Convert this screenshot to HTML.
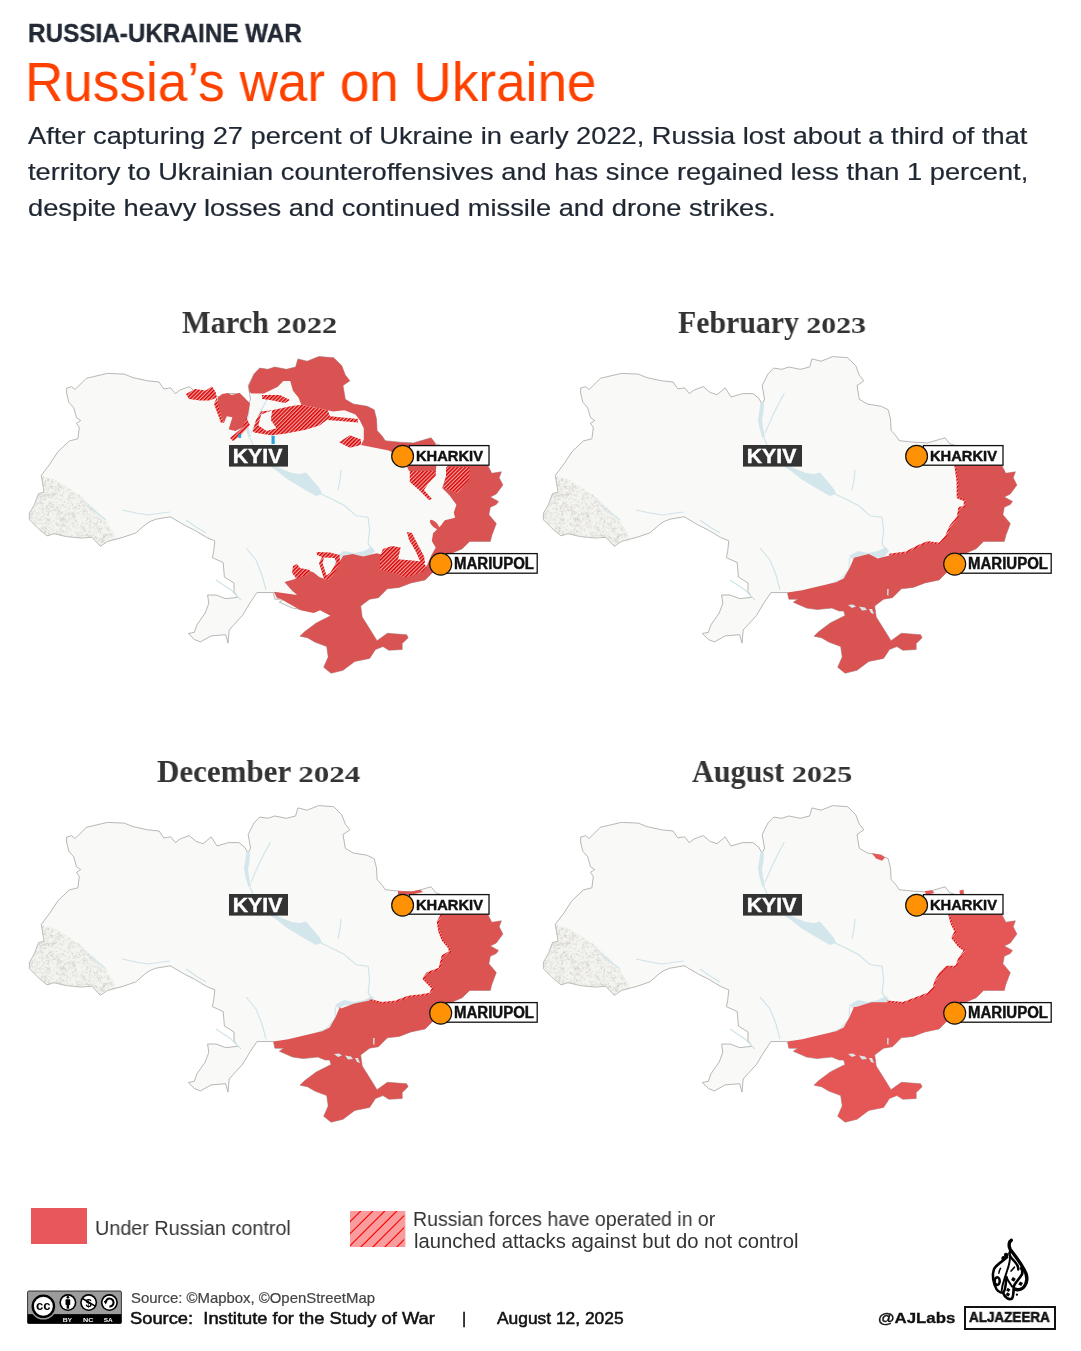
<!DOCTYPE html>
<html><head><meta charset="utf-8">
<style>
html,body{margin:0;padding:0;background:#fff;}
body{width:1081px;height:1351px;position:relative;overflow:hidden;font-family:"Liberation Sans",sans-serif;}
.t{position:absolute;white-space:nowrap;transform-origin:0 0;will-change:transform;}
#map{position:absolute;left:0;top:0;will-change:transform;}
#cc,#ajlogo{will-change:transform;}
.od{display:inline-block;transform:scaleY(0.72);transform-origin:50% 83%;}
</style></head>
<body>
<svg id="map" width="1081" height="1351" viewBox="0 0 1081 1351">
<defs>
<pattern id="hat" patternUnits="userSpaceOnUse" width="2.7" height="2.7" patternTransform="rotate(45)">
<rect x="0" y="0" width="2.7" height="2.7" fill="#f3aaaa"/><rect x="0" y="0" width="1.5" height="2.7" fill="#d80000"/>
</pattern>
<path id="ukr" d="M543.4,513.3 548.3,504.9 552.5,493.7 558.1,492.2 555.3,475.4 563.8,464.1 572.2,451.4 583.5,440.9 591.9,438.8 593.3,427.5 590.5,423.3 594.7,420.5 590.5,417.7 587.7,407.8 582.8,402.2 580.6,393.0 580.6,388.1 585.6,386.7 589.1,389.5 600.3,378.3 621.4,373.4 638.3,374.1 646.8,377.6 661.6,380.8 673.1,382.0 677.8,388.9 684.7,387.8 689.3,393.6 693.9,390.1 703.2,386.6 710.1,392.4 717.1,394.7 725.2,387.8 731.0,397.0 742.5,393.6 752.9,393.6 758.7,398.2 762.2,404.0 764.5,399.3 762.2,385.5 768.0,373.9 773.7,368.1 781.8,369.3 788.8,367.0 800.3,369.3 809.6,367.0 811.9,358.9 821.1,361.2 832.7,356.6 847.7,357.7 855.8,365.8 859.3,375.1 863.9,380.8 857.0,385.5 859.3,399.3 867.4,404.0 881.3,406.3 888.2,409.8 890.5,419.0 891.1,430.4 896.3,436.3 899.2,440.7 914.0,442.2 927.4,442.9 945.1,437.8 949.6,443.7 975.0,452.0 1000.0,462.0 1005.8,473.3 1015.4,471.8 1013.2,477.7 1016.9,485.1 1010.3,494.0 1004.3,497.0 1012.5,501.4 1010.3,504.4 1004.3,507.3 1002.9,514.7 1010.3,523.6 1005.8,535.5 1004.3,541.4 983.6,541.4 976.2,548.8 965.8,553.2 955.0,565.0 945.1,573.9 939.2,579.9 925.0,582.9 913.2,587.4 901.4,588.8 892.5,597.7 883.6,599.2 874.7,605.9 876.2,617.0 883.6,628.8 891.0,640.7 901.4,633.3 920.6,634.7 922.1,637.7 916.2,643.6 916.2,649.5 902.9,650.3 896.9,646.6 889.5,649.5 883.6,658.4 868.8,661.4 857.0,670.3 845.1,673.2 837.7,667.3 842.2,656.9 840.7,646.6 828.8,642.1 821.4,637.7 814.0,636.2 818.5,631.8 830.3,622.9 845.1,615.5 843.6,611.0 839.2,611.0 831.8,608.1 817.0,609.6 806.6,608.1 793.3,602.2 797.8,599.2 788.9,599.2 787.4,592.5 770.9,592.6 763.7,603.4 756.5,615.4 743.2,629.9 742.0,643.1 739.6,634.7 725.2,635.9 714.4,641.9 708.4,639.5 702.3,633.5 708.4,632.3 710.8,625.0 719.2,613.0 722.8,603.4 721.6,595.0 730.0,595.0 739.6,598.6 751.6,597.4 748.0,591.4 748.0,583.0 738.4,577.0 737.2,562.5 726.4,557.7 727.6,551.7 728.8,540.9 720.4,537.3 708.4,530.1 698.7,525.3 684.3,516.8 669.9,519.2 663.9,521.6 660.2,524.0 649.6,533.0 636.9,537.3 621.4,541.5 614.4,546.4 606.0,537.3 594.7,538.0 580.6,536.6 568.0,533.7 561.0,535.9 552.5,528.8 543.4,519.7Z"/>
<clipPath id="ukrclip"><use href="#ukr"/></clipPath>
<g id="carp"><path d="M570.8 487.2l-0.8 1.5M590.3 503.1l2.5 0.5M544.4 508.1l1.6 0.4M580.1 537.2l1.8 0.7M594.1 505.4l-1.6 0.1M554.3 484.7l1.8 2.6M557.6 519.0l-0.9 2.0M603.6 507.6l1.5 2.2M582.7 498.2l-2.3 1.7M563.5 518.5l-0.3 3.2M579.5 532.0l2.2 1.1M544.6 525.4l-2.0 1.8M605.0 520.0l-0.6 2.3M618.3 545.9l0.2 2.8M546.6 527.9l-1.6 3.1M576.5 525.5l2.4 0.2M556.5 484.7l3.0 0.6M552.9 494.3l1.1 3.1M548.4 509.2l-0.5 3.2M616.4 539.9l1.5 1.8M557.2 493.2l1.8 1.7M575.0 517.9l-2.8 0.4M588.4 521.7l-0.8 1.4M623.8 533.7l-2.9 1.2M577.1 505.5l2.6 0.9M560.2 488.0l0.8 1.4M550.3 502.9l3.2 0.3M564.2 501.7l0.7 1.6M583.9 511.8l1.6 0.5M572.5 495.6l-1.6 0.9M620.4 527.5l1.5 1.6M556.4 533.1l-0.3 3.0M571.3 492.5l-2.9 1.9M619.4 535.6l-2.5 1.6M561.9 514.3l0.7 1.4M564.8 527.2l-2.4 0.3M561.3 492.8l1.6 1.1M601.1 535.2l2.7 0.7M624.7 533.9l-1.7 1.7M557.4 534.4l1.6 2.7M552.7 487.2l-3.0 0.9M573.2 516.6l1.4 0.6M564.2 497.7l1.9 1.8M564.9 507.0l3.0 1.3M573.5 509.9l-0.9 3.2M587.2 515.4l-0.1 1.5M581.5 489.5l3.1 0.0M556.9 511.0l-1.7 2.0M571.0 514.4l-0.5 3.0M550.8 517.5l1.5 1.4M612.0 513.6l-0.6 3.0M597.4 513.4l-0.1 2.9M582.6 515.5l0.2 3.4M605.3 540.9l-2.0 0.4M552.2 508.7l1.9 0.4M547.7 525.5l-2.6 2.1M555.2 529.0l-0.9 1.6M577.6 512.1l-3.2 0.1M555.9 507.9l-0.1 2.2M559.0 499.6l-1.0 1.2M592.0 508.6l2.2 0.1M598.4 513.9l3.4 0.7M613.5 547.9l1.9 0.7M565.9 485.6l0.8 3.2M593.5 527.8l1.6 0.4M604.3 507.5l3.3 0.8M599.4 535.3l3.1 0.8M582.7 501.1l-0.6 3.3M565.6 485.6l-0.2 2.0M551.1 487.9l1.9 0.3M569.7 498.6l-1.5 1.4M608.4 516.8l2.0 1.4M586.5 537.8l0.8 2.4M572.5 537.6l-1.7 2.2M578.2 501.7l1.7 0.3M564.5 488.1l3.1 0.8M621.1 525.6l1.3 1.5M568.0 510.0l2.1 1.1M569.5 502.4l2.3 0.0M584.7 513.2l2.0 1.5M549.3 505.6l1.5 0.2M569.0 493.2l-0.7 2.5M610.0 524.7l-2.0 2.5M576.8 500.1l-1.8 0.1M607.6 523.6l3.1 0.4M608.5 536.1l2.3 1.1M587.4 537.8l-2.6 1.8M603.8 527.3l1.2 1.0M553.2 502.7l3.0 1.0M592.4 522.5l-1.1 2.6M614.4 531.4l-0.0 2.6M547.8 495.7l-1.3 1.4M586.4 504.3l0.2 2.9M611.6 521.7l-0.7 1.5M554.6 494.8l-1.5 1.5M602.8 527.2l-1.1 1.8M588.5 510.4l0.2 1.7M542.6 510.0l-2.9 1.8M582.3 495.9l2.7 2.1M560.4 519.0l2.3 1.1M622.6 528.0l2.5 2.2M541.3 512.4l0.3 2.1M553.9 501.5l1.7 2.7M575.2 505.1l-2.7 0.0M574.2 507.7l1.0 1.2M563.9 495.7l-0.1 1.9M622.4 536.1l-1.3 3.0M608.4 509.4l-2.0 2.0M567.3 479.6l-1.7 0.4M584.4 501.4l1.8 2.4M592.3 505.2l1.6 0.9M586.7 492.3l-3.3 1.0M558.7 482.7l0.8 1.5M563.0 495.1l-0.7 3.2M579.1 514.8l0.8 2.0M587.3 522.6l-1.8 0.8M565.9 494.4l0.7 2.3M628.8 538.8l-1.4 0.6M617.0 539.3l-2.0 0.2M551.0 487.4l-0.2 2.9M600.6 532.6l0.3 2.6M552.8 494.6l-1.2 2.6M589.2 519.1l0.7 1.8M568.7 510.1l-2.8 0.4M562.6 494.3l-2.9 0.4M586.8 525.9l0.5 2.0M561.9 478.5l1.1 2.0M614.3 530.7l-0.0 1.9M561.4 532.3l2.0 2.7M561.5 506.9l-1.7 2.9M554.5 505.1l2.7 2.1M554.1 479.8l2.2 0.4M623.6 541.4l-2.3 2.6M602.1 504.0l0.8 2.0M566.7 502.0l-1.7 0.2M573.8 536.8l-2.0 1.3M545.5 511.0l1.3 3.1M558.8 503.0l-1.5 0.5M578.8 536.1l-1.2 1.1M609.8 542.5l1.0 1.8M565.1 529.0l1.1 1.7M562.5 511.2l-3.4 0.5M576.6 494.6l0.5 2.4M614.8 530.6l-2.6 1.6M596.9 500.3l1.2 1.9M559.2 531.7l1.2 1.1M544.1 516.9l1.8 3.0M565.4 482.2l2.4 0.7M606.3 509.1l1.7 1.6M598.1 525.9l-2.2 2.3M593.2 503.6l-1.3 1.4M563.8 494.2l2.9 1.5M594.2 500.1l1.1 3.3M587.7 493.1l-2.3 1.6M584.7 536.6l-2.9 1.6M552.0 490.0l-2.7 0.2M564.9 533.6l-1.7 0.3M595.8 521.9l1.7 1.4M554.0 491.1l1.9 1.9M569.7 491.1l-2.1 1.6M577.4 516.7l-0.7 1.5M556.1 527.5l0.6 2.0M569.7 517.9l1.0 2.1M574.5 490.6l-1.3 1.4M580.0 536.7l0.9 3.1M542.4 516.8l-1.4 3.0M549.2 522.0l1.0 2.3M554.4 497.0l-0.2 3.3M551.0 512.3l-2.8 2.0M559.2 485.4l-3.4 0.6M578.2 538.6l-1.6 1.0M561.1 505.6l-0.1 2.3M552.3 494.3l-2.1 2.5M544.8 517.6l-1.1 1.1M596.2 516.7l-0.8 1.9M579.6 519.1l0.7 2.7M582.1 508.4l2.7 0.2M586.0 493.4l-2.3 2.1M583.2 489.3l0.1 1.7M552.8 507.9l2.3 0.7M608.5 533.5l-0.1 1.6M587.4 504.0l-1.8 0.3M608.4 536.3l2.8 2.0M613.5 544.9l2.2 0.4M560.2 495.5l-0.0 2.1M603.5 542.3l2.6 1.6M551.6 515.3l-0.9 2.0M594.4 541.3l3.3 1.1M598.9 505.2l-1.6 1.2M574.1 532.6l0.3 1.8M594.9 525.1l0.8 1.3M597.7 508.0l-0.1 3.3M553.1 492.8l-0.7 1.4M550.8 502.4l2.0 1.7M598.4 511.1l3.1 1.4M563.4 487.0l2.7 0.8M621.2 533.9l0.6 1.9M542.1 523.7l-0.4 2.2M600.4 508.8l-2.9 0.6M545.0 515.3l0.6 1.9M542.1 516.8l-1.8 0.3M559.4 521.0l-0.1 2.8M569.5 498.2l3.2 0.5M613.0 528.9l3.2 0.1M609.6 510.4l-1.7 1.7M561.8 483.8l1.2 1.1M571.9 531.5l-1.8 2.6M591.9 508.3l-2.0 1.6M565.4 523.5l-1.9 0.2M565.0 493.5l-2.4 2.4M599.0 527.3l-1.7 3.0M584.2 538.1l-1.9 2.6M581.2 529.6l-0.5 2.1M560.5 522.1l3.2 0.8M554.3 478.0l3.2 1.1M572.7 486.5l1.6 0.1M604.7 522.9l-1.7 2.4M547.1 519.7l1.3 2.9M616.4 542.0l3.2 0.7M625.1 545.9l1.8 0.6M619.0 536.1l-1.3 2.9M570.4 507.4l2.0 0.1M567.0 529.0l0.9 2.0M619.3 521.8l2.3 0.2M581.2 533.2l1.3 2.6M541.4 512.3l0.1 3.1M558.0 512.6l1.5 2.8M567.1 491.9l-1.5 2.0M551.1 523.1l3.0 0.8M605.1 534.2l-0.9 2.0M577.9 505.2l-1.6 0.6M560.0 495.5l-2.4 0.8M562.5 510.1l-0.3 3.0M610.3 523.8l1.0 1.9M601.9 530.9l2.0 1.2M612.2 518.9l2.2 0.9M558.6 498.3l-1.9 2.6M555.2 487.5l1.5 1.5M571.2 490.0l-2.9 0.2M550.4 504.4l-3.1 0.2M559.0 523.2l1.8 0.6M577.7 534.5l-1.4 2.1M599.2 510.3l2.4 1.2M578.2 530.8l-2.3 0.7M593.8 531.4l0.5 1.9M607.4 541.1l-2.2 1.9M619.4 526.3l-1.0 2.2M569.8 522.5l2.2 0.7M613.0 528.8l-0.8 1.8M580.0 509.7l-0.9 2.2M557.8 524.4l-1.7 1.5M544.5 516.2l2.7 1.5M550.3 518.5l-0.4 2.9M588.1 523.3l-2.2 1.3M560.3 526.6l1.0 2.9M566.2 505.6l2.3 0.1M579.7 527.7l0.9 1.8M561.6 530.9l-2.5 0.5M561.1 535.3l0.6 1.8M552.9 533.5l-2.3 1.6M584.2 517.6l2.6 2.2M573.5 523.3l-2.6 1.7M584.1 497.8l-0.3 1.7M575.6 494.8l0.4 1.8M566.9 494.1l1.4 2.0M580.4 523.2l-1.1 2.0M626.4 539.2l3.1 0.6M624.3 534.0l2.9 1.4M562.5 533.4l0.8 1.6M624.2 534.6l2.8 1.7M597.0 533.8l-1.7 2.8M613.5 538.1l2.3 1.7M589.8 530.9l0.6 3.2M592.1 495.6l1.3 1.2M586.2 512.9l-0.4 3.2M584.1 517.6l-1.6 2.8M575.5 507.0l-1.6 0.2M599.6 523.1l2.7 0.2M588.0 511.9l-1.5 0.5M607.1 522.3l1.6 2.8M574.7 511.1l-0.2 3.0M560.4 508.2l0.6 2.5M587.3 496.1l-0.1 3.4M601.2 534.6l1.1 1.8M568.5 519.4l-1.3 2.8M601.5 534.4l-2.6 0.8M597.7 522.4l-1.6 2.2M602.4 509.9l-1.3 1.2M557.7 478.7l-2.5 2.2M601.3 503.3l-2.6 1.6M592.7 495.1l1.4 1.9M570.3 507.9l-1.5 3.0M546.0 518.0l1.7 0.2M615.6 518.6l-2.3 0.6M555.0 477.1l2.9 0.0M606.6 539.3l-1.1 1.3M598.8 528.5l0.4 3.3M542.4 524.2l-1.4 0.9M569.6 530.0l2.8 1.6M574.8 518.5l0.5 2.8M574.4 523.7l-0.9 2.1M576.5 534.2l-3.0 0.5M593.1 497.6l3.4 0.7M605.7 537.2l1.4 2.3M596.3 498.8l0.7 3.2M575.7 526.7l-1.0 3.1M579.9 519.4l-2.7 1.8M615.7 540.2l-0.5 2.0M619.3 535.7l-1.8 2.8M572.9 482.3l-0.5 3.1M559.4 531.5l-1.9 0.4M596.8 526.1l0.2 1.9M564.4 531.6l-1.9 1.5M584.8 519.6l1.6 1.1M557.6 527.9l1.1 2.4M578.0 514.3l1.4 0.7M550.8 522.8l-1.4 1.1M595.9 501.5l-0.1 1.5M593.2 495.4l-1.8 1.5M616.3 547.3l1.1 1.1M559.5 489.4l1.5 0.4M592.3 540.4l0.4 3.4M596.0 505.4l3.2 1.3M564.7 517.8l-1.5 3.1M602.6 505.1l0.3 1.8M561.4 478.9l1.5 1.6M624.1 542.9l-1.4 0.8M613.3 528.5l-1.5 3.1M610.5 545.5l-1.1 1.8M595.4 532.1l2.0 0.7M564.6 485.2l0.1 1.8M562.9 486.6l-0.8 1.3M620.7 541.8l2.2 1.0M618.5 522.5l0.3 2.2M561.4 480.2l-1.6 2.0M565.5 506.5l1.8 1.0M556.4 512.3l1.8 2.8M584.9 497.2l1.3 1.4M550.0 497.4l-1.5 0.5M558.1 508.2l-1.9 0.5M557.6 533.0l-1.2 1.5M597.0 512.7l1.2 1.4M597.3 528.4l-2.2 1.5M559.6 480.9l-1.5 1.7M618.5 540.0l0.0 1.5M558.1 537.5l0.7 1.7M575.1 520.0l2.5 0.0M582.0 514.2l2.7 1.1M616.1 540.0l1.6 2.5M576.1 531.6l3.2 0.6M588.2 515.3l-0.2 1.5M557.8 483.6l2.2 2.2M542.6 520.4l-0.6 2.5M621.0 529.1l1.7 0.2M586.4 513.1l1.1 1.3M578.3 486.1l-0.9 3.1M554.5 518.4l-1.3 1.3M617.0 545.4l0.8 2.2M563.1 500.8l0.7 3.4M615.0 543.5l-2.7 1.8M545.9 514.3l-3.3 0.4M563.9 507.2l-0.9 2.0M580.8 513.4l1.8 0.1M615.5 541.4l-1.5 0.6M588.9 508.1l-2.1 0.3M569.1 523.9l2.5 1.0M565.7 510.5l-0.2 1.8M552.4 485.7l1.4 1.8M567.5 494.0l2.5 0.7M618.3 521.1l-0.6 2.7M559.5 528.6l0.3 2.6M597.4 510.7l1.1 1.6M561.4 513.9l1.0 2.5M592.2 512.4l2.2 2.7M568.2 533.1l1.4 0.8M546.7 504.7l0.6 2.9M551.1 492.7l-3.0 0.4M555.2 500.9l1.3 2.5M597.7 538.9l-2.1 1.4M609.0 531.0l-1.8 1.7M613.2 528.4l-1.7 0.5M611.4 519.4l0.0 3.4M593.6 506.9l-2.5 2.0M596.9 504.1l0.4 2.4M576.9 517.1l0.8 2.0M613.4 538.9l0.0 2.4M557.9 498.5l2.4 1.2M618.6 538.0l-1.9 0.2M593.0 512.8l-3.0 0.8M588.6 514.3l-1.3 1.9M573.9 520.0l1.5 3.0M603.2 514.9l2.1 0.7M577.9 517.5l-0.8 3.2M581.5 522.2l-2.2 0.0M589.8 536.4l1.8 1.1M623.3 527.1l-2.9 1.9M555.4 497.5l-0.1 2.5M558.3 489.5l-1.1 2.5M578.9 534.3l1.6 2.4M586.8 516.9l1.9 2.1M593.9 506.4l1.7 0.7M550.2 488.6l-0.2 3.1M597.4 535.7l1.5 0.3M556.6 495.7l3.1 1.0M594.6 501.8l0.4 2.2M581.4 521.9l1.1 1.1M626.6 539.2l1.8 2.8M563.3 504.8l-1.2 1.5M585.6 534.7l1.3 1.3M574.0 489.8l-2.1 0.2M590.1 504.5l0.5 1.6M573.3 494.1l1.7 1.2M562.8 478.6l-1.1 1.9M555.3 528.2l2.0 0.6M581.8 537.9l-1.5 1.0M573.5 529.5l1.3 3.2M587.4 492.8l0.3 1.7M574.9 494.2l-0.6 1.8M588.2 516.2l2.0 2.3M576.4 524.7l-0.4 2.1M570.5 525.0l2.5 0.9M574.3 513.0l1.0 1.3M569.6 492.8l2.7 1.1M567.0 505.8l-2.9 0.9M622.2 539.7l1.9 0.8M579.0 524.8l-1.2 1.6M608.5 528.7l1.6 0.2M555.9 490.7l1.3 1.8M581.0 526.6l0.7 1.3M617.8 533.5l1.0 1.2M609.8 537.3l1.1 1.3M609.0 537.4l-0.9 2.2M580.4 513.9l-1.7 0.4M605.7 535.6l1.8 1.9M591.0 494.5l2.2 0.4M578.9 490.9l1.0 1.5M606.0 525.6l1.5 1.3M588.4 508.9l-2.2 0.4M554.1 517.7l1.6 2.7M591.4 532.3l2.4 1.4M596.1 510.1l-2.3 2.1M551.5 497.4l0.8 1.7M559.1 527.9l0.3 1.7M570.9 510.7l0.8 1.7M548.7 529.1l-2.6 0.2M551.0 512.2l0.4 1.8M563.6 486.3l3.0 0.3M558.1 523.2l-3.0 1.6M556.5 534.1l-2.6 1.5M571.1 489.7l-1.8 1.1M574.9 516.8l1.3 2.9M563.0 479.1l-0.6 2.7M616.4 528.2l-3.2 1.0M586.5 513.0l1.8 1.0M581.4 490.1l-1.0 1.2M618.4 539.3l-1.8 1.5M567.1 525.0l-0.1 2.3M572.2 508.5l-1.6 2.7M568.2 508.8l-0.4 2.2M559.0 482.3l1.3 2.1M630.4 543.2l-3.1 1.4M603.2 521.1l1.6 2.1M603.4 509.1l2.7 0.7M575.2 519.0l0.7 2.5M593.0 505.3l1.7 0.7M564.3 483.0l-0.2 2.0M586.0 517.0l2.0 1.7M551.4 514.0l-0.5 1.6M581.4 539.9l-0.5 2.9M577.1 488.7l-2.6 0.3M562.8 503.6l2.7 0.1M560.6 498.2l-1.4 1.9M625.4 540.4l2.6 1.5M572.4 532.5l-1.7 2.7M552.3 503.6l-2.3 2.5M591.5 535.4l3.1 1.2M558.8 509.1l-2.3 1.3M558.0 517.0l1.8 2.3M576.0 486.7l-2.4 1.0M604.4 535.8l-1.5 0.2M572.5 487.2l-0.0 3.2M557.8 536.6l-1.2 1.9M548.0 500.4l2.6 2.1M556.6 502.7l0.3 2.6M576.7 502.2l2.7 0.1M566.1 513.0l1.8 1.9M592.6 533.0l-2.8 1.2M599.2 523.0l0.9 1.9M614.2 540.6l-2.8 0.5M569.0 532.5l-1.7 1.8M599.4 501.9l-0.4 2.3M546.6 501.0l1.8 3.0M585.3 503.2l1.4 1.4M573.1 486.0l3.2 0.1M582.7 509.0l-0.5 2.1M556.5 480.9l1.2 1.7M607.9 516.8l-2.1 0.4M573.8 533.3l0.7 3.2M547.2 511.9l-1.9 0.6M556.1 495.8l-1.2 1.6M577.8 490.8l-1.0 3.1M615.5 540.8l0.8 1.6M558.3 515.7l-2.6 1.1M571.1 531.5l-1.0 2.1M546.3 506.7l2.7 0.4M571.8 512.6l-0.6 1.9M597.5 529.6l0.9 1.4M555.4 486.6l-1.3 1.1M590.6 519.5l-0.5 2.8M596.3 500.5l-1.4 1.5M606.5 532.5l-1.6 1.4M582.7 496.6l-0.2 3.4M584.8 524.5l-1.7 1.4M546.5 513.1l-0.3 1.8M554.7 489.1l-2.3 2.5M555.9 478.1l-1.5 1.3M599.5 501.5l-2.0 1.4M550.9 530.3l2.7 0.6M578.0 539.9l2.6 0.5M561.6 494.6l1.6 1.7M562.3 491.0l-2.0 1.9M560.9 518.1l2.8 1.5M610.1 536.9l1.4 1.7M555.9 526.5l-0.7 2.3M594.3 541.3l2.6 2.0M574.2 533.7l-1.7 0.8M554.9 530.5l1.8 0.6M606.9 541.3l-1.6 0.1M562.6 534.6l-0.9 1.3M587.4 493.1l0.4 1.7M552.1 512.1l2.1 1.0M557.5 526.7l2.7 1.3M573.5 512.7l-2.1 0.6M622.3 530.1l1.2 1.4M565.3 481.1l2.5 0.3M578.5 517.2l0.6 1.4M604.3 524.3l-0.4 2.6M621.4 529.1l0.7 2.0M576.6 504.5l0.5 1.7M564.4 521.2l0.7 1.8M559.3 484.6l-2.7 1.5M600.5 516.6l1.9 2.9M562.6 522.6l-1.6 1.6M589.4 521.3l-1.1 1.8M598.9 516.2l2.1 1.8M584.5 529.4l-0.2 2.4M561.4 486.5l-2.5 0.6M589.2 515.0l-1.6 1.1M556.9 536.8l0.3 2.8M617.1 542.2l-1.5 0.6M576.1 537.6l-1.5 0.9M555.2 494.6l2.1 0.7M604.9 509.2l0.2 3.1M588.9 493.6l0.9 2.0M559.5 518.2l1.8 0.3M570.8 493.9l-1.5 0.8M599.5 539.6l1.9 1.4M613.9 521.7l0.6 1.5M581.7 503.2l-1.3 1.6M578.5 524.0l-1.8 1.2M576.5 518.8l-1.8 0.4M575.3 525.3l0.8 1.4M589.4 512.7l-2.9 0.9M543.4 519.9l0.3 2.4M581.5 512.4l-0.1 3.1M602.7 530.8l0.5 1.5M603.5 517.0l-2.3 2.0M551.9 492.3l3.0 0.8M610.3 517.8l2.8 0.5M606.4 511.7l2.8 0.5M579.4 519.2l-3.1 0.0M571.8 514.3l3.5 0.1M566.3 495.4l1.1 1.7M588.0 507.1l2.1 0.3M620.7 535.3l-1.8 0.9M559.6 479.9l-0.3 2.2M583.7 512.2l-0.6 2.2M590.0 506.3l-0.4 2.1M566.2 534.9l1.8 2.3M614.8 519.8l0.5 3.3M546.3 508.1l-0.7 1.4M603.0 525.9l1.2 1.5M613.2 546.4l0.7 2.7M546.2 527.5l3.1 0.4M568.0 493.2l-0.5 2.1M614.5 548.5l0.5 1.5M576.0 523.4l2.0 1.7M549.6 510.4l-1.6 1.8M567.7 501.7l-1.8 1.8M585.6 539.9l-0.8 2.5M571.6 509.3l2.1 2.1M557.5 534.3l1.0 1.3M591.7 534.3l-0.7 2.3M544.1 514.0l2.7 0.8M553.1 518.8l1.0 2.0M571.5 538.3l-2.3 1.0M554.7 483.0l-1.6 0.6M586.6 515.7l2.3 0.9M556.1 515.6l-0.0 2.2M559.2 505.9l1.4 1.0M585.9 534.5l-0.6 2.8M562.1 531.5l1.8 0.9M588.7 497.6l-1.6 0.6M595.8 534.0l-1.0 1.3M563.6 520.3l-1.6 0.1M597.9 527.2l-1.8 1.2M563.5 530.3l-1.0 1.5M572.7 486.4l1.6 1.1M585.1 512.8l-2.6 2.1M610.1 523.1l2.2 1.6M618.8 534.2l2.8 0.8M573.1 488.0l-2.8 0.3M617.2 545.3l-2.9 0.9M617.6 535.4l-0.7 2.3M616.9 534.0l-1.9 0.8M564.2 538.0l1.4 1.3M583.1 493.5l0.1 3.3M604.1 528.6l1.0 2.9M614.0 526.5l-3.1 0.6M601.0 537.9l1.3 2.4M617.9 534.7l2.5 0.0M596.6 509.9l1.0 1.7M573.5 538.5l-0.8 1.9M549.1 496.1l-1.4 1.9M601.8 535.7l2.7 1.1M557.9 496.1l-2.2 0.3M577.3 513.0l-2.5 0.3M582.8 535.9l1.6 1.6M550.3 516.9l-2.3 1.1M548.0 522.2l0.6 3.4M574.3 524.9l-0.9 2.1M589.0 526.1l-2.4 0.7M603.9 517.2l0.5 3.0M623.0 529.9l-1.1 1.1M570.9 486.1l-3.2 0.5M554.3 519.5l-0.4 1.5M577.1 531.3l-0.9 1.9M591.1 507.1l-2.8 0.2M615.1 526.1l1.3 3.2M606.3 527.1l1.2 1.4M593.9 537.1l-1.7 1.3M553.9 514.2l-1.7 0.7M568.4 504.3l-3.4 0.4M558.2 498.9l-1.9 0.3M570.5 508.4l1.9 0.7M577.2 504.5l-2.0 0.2M582.4 537.9l-1.3 2.8M570.0 487.3l-1.8 1.7M592.4 525.6l-1.5 1.4M589.7 497.3l-0.8 1.9M565.4 494.0l2.5 0.6M610.3 526.2l0.8 3.0M551.2 498.7l-1.5 3.1M599.3 527.2l-1.7 1.5M572.4 505.1l-1.8 1.3M589.9 514.6l-1.7 2.8M553.3 501.1l2.3 0.5M587.2 539.0l-1.3 2.3M578.1 518.5l2.1 2.4M613.5 538.0l2.5 1.3M610.4 513.0l-3.1 1.0M609.4 536.8l-1.5 2.9M553.1 528.1l-1.6 2.2M566.3 481.0l-1.0 3.0M566.1 491.8l1.3 1.1M553.8 496.4l2.4 0.4M592.1 535.7l3.1 0.4M551.2 492.6l-0.9 2.0M571.5 518.1l2.4 2.0M560.2 538.1l-2.1 1.5M543.6 513.3l0.4 1.6M599.0 529.6l-0.6 2.2M588.1 519.6l2.5 2.1M582.8 526.5l-1.5 1.9M572.4 490.1l0.6 2.0M558.9 530.5l-0.1 2.4M559.2 528.1l1.7 1.2M592.5 527.9l-3.0 0.3M628.2 544.1l-1.9 2.2M607.4 522.6l1.5 1.6M556.1 522.8l-2.1 0.1M555.2 533.5l0.3 3.5M624.9 534.8l0.2 3.1M552.8 484.1l-0.5 2.5M560.3 494.6l3.3 0.2M615.7 538.3l1.4 0.6M560.7 519.3l0.6 1.4M617.4 534.2l0.2 1.6M547.5 499.9l-1.2 3.0M585.6 523.3l1.6 1.2M550.6 519.8l1.8 0.7M583.0 519.3l-1.2 2.7M584.3 505.6l-1.5 2.5M563.1 524.1l-1.4 2.0M562.0 505.0l-2.5 1.9M599.3 530.9l1.7 0.2M561.2 525.7l-2.7 0.6M555.1 477.3l-1.2 1.2M558.2 535.7l2.2 1.2M622.8 543.8l3.2 0.0M592.1 536.8l-0.0 2.7M595.7 535.2l1.6 0.4M591.2 497.5l0.5 1.4M617.3 536.1l0.2 1.7M573.4 483.0l-2.1 2.4M574.8 498.4l-1.3 1.2M604.7 520.3l-0.2 2.4M578.5 521.2l-1.5 3.0M608.4 534.9l-3.1 0.9M603.6 538.9l0.7 3.2M581.6 528.3l1.5 1.5M573.1 500.0l2.3 0.7M626.8 532.4l-3.0 1.7M564.0 506.5l2.0 0.1M622.5 544.1l1.6 2.6M612.3 541.8l-2.0 1.5M569.9 522.4l1.0 2.4M589.8 524.1l-0.4 3.4M549.2 491.7l2.1 2.6M557.2 508.4l-1.6 2.4M609.6 531.7l1.4 1.4M560.2 495.2l-2.8 0.3M595.4 524.6l-0.9 2.8M569.0 480.7l1.5 0.3M574.3 486.5l2.3 0.9M566.2 532.9l1.4 0.9M568.9 506.3l-1.3 2.0M619.7 535.4l-1.1 1.8M601.7 519.4l-0.9 1.6M554.2 483.2l-2.3 0.1M601.0 518.2l1.2 1.1M574.5 529.5l2.8 1.3M564.2 503.1l-0.1 1.7M563.8 534.9l1.4 1.8M558.8 492.2l0.8 2.1M600.0 510.9l-1.5 0.6M602.1 537.9l1.2 1.0M583.3 528.7l1.7 0.5M562.2 508.6l1.5 0.6M574.2 510.7l-2.6 0.5M609.5 517.7l-3.1 1.4M563.1 488.6l-1.8 0.8M548.6 495.6l-2.4 0.6M582.7 499.5l2.3 1.7M574.2 484.9l-2.5 0.1M557.6 476.8l-1.2 2.2M543.3 510.8l-1.8 1.9M562.5 512.9l-0.9 2.7M561.9 520.2l-1.6 0.5M561.0 478.7l0.3 1.7M558.6 531.4l-0.9 3.3M578.0 526.3l3.4 0.1M562.4 511.3l-0.1 3.4M570.6 506.1l1.3 2.5M564.7 509.6l-0.6 2.9M553.7 493.8l3.2 1.3M554.7 486.1l-0.2 2.7M562.6 488.4l-0.6 2.3M601.9 539.7l-2.0 0.3M567.6 497.4l-3.2 0.3M579.6 515.2l-2.8 1.4M601.1 513.9l1.9 0.7M601.5 519.4l-2.7 1.9M562.8 503.1l-0.2 2.8M598.4 510.9l-1.6 2.7M541.9 511.2l-1.5 2.5M562.4 507.9l-1.9 0.3M602.0 532.7l1.8 0.8M560.8 495.7l1.8 0.2M578.4 507.1l2.6 0.6M573.7 528.1l0.4 1.8M611.5 537.8l-1.2 2.5M559.1 532.7l1.2 1.6M616.6 520.5l-2.9 1.5M542.4 515.6l-1.3 1.6M556.9 527.5l2.0 0.0M565.4 528.6l-1.5 0.1M571.9 514.7l1.3 2.0M585.1 495.1l1.6 0.3M555.9 482.8l-1.1 2.7M565.2 534.6l-1.4 1.6" stroke="#a9a59d" stroke-width="0.45" fill="none" opacity="0.42"/></g>
</defs>
<g transform="translate(-514,0)">
<use href="#ukr" fill="#f9f9f7" stroke="#9a9a96" stroke-width="0.7"/>
<g clip-path="url(#ukrclip)"><polygon points="541.0,512.0 547.0,498.0 554.0,476.0 566.0,478.0 580.0,486.0 596.0,497.0 610.0,510.0 622.0,524.0 633.0,542.0 617.0,550.0 600.0,542.0 580.0,540.0 560.0,540.0 542.0,524.0" fill="#e6e4df" opacity="0.3"/><use href="#carp"/></g>
<polygon points="760.5,402.0 764.0,404.0 763.5,412.0 762.0,420.0 763.0,428.0 765.0,437.0 762.5,438.0 759.5,428.0 758.0,420.0 759.5,410.0" fill="#d3e6eb"/>
<polygon points="786.0,464.0 797.0,469.5 806.0,473.0 814.0,474.0 820.0,472.5 823.0,476.0 829.0,483.0 834.0,489.0 836.0,494.0 830.0,496.0 821.0,491.0 811.0,485.0 801.0,479.0 791.0,471.0 785.0,467.0" fill="#d3e6eb"/>
<polygon points="849.0,556.0 858.0,551.0 868.0,553.0 878.0,551.0 886.0,547.0 889.0,551.0 883.0,558.0 872.0,557.0 860.0,556.0 852.0,559.0" fill="#d3e6eb"/>
<polyline points="784.4,393.0 778.0,405.0 773.0,415.0 769.6,422.6 765.2,432.9" fill="none" stroke="#cfe3e9" stroke-width="1.1"/>
<polyline points="764.0,438.0 770.0,452.0 780.0,462.0 788.0,466.0" fill="none" stroke="#cfe3e9" stroke-width="1.1"/>
<polyline points="835.0,494.0 843.6,498.0 858.4,505.5 870.3,515.8 882.1,517.3 883.6,530.6 882.1,543.9 886.5,551.0" fill="none" stroke="#cfe3e9" stroke-width="1.1"/>
<polyline points="849.5,558.0 849.0,570.0 840.0,580.0 825.0,586.0 805.0,592.0" fill="none" stroke="#cfe3e9" stroke-width="1.1"/>
<polyline points="636.0,510.0 650.0,513.0 662.0,515.0 676.0,513.0 684.0,512.0" fill="none" stroke="#cfe3e9" stroke-width="1.1"/>
<polyline points="600.0,505.0 610.0,512.0 620.0,520.0" fill="none" stroke="#cfe3e9" stroke-width="1.1"/>
<polyline points="700.0,520.0 710.0,527.0 720.0,533.0" fill="none" stroke="#cfe3e9" stroke-width="1.1"/>
<polyline points="760.0,548.0 770.0,560.0 776.0,575.0 780.0,590.0" fill="none" stroke="#cfe3e9" stroke-width="1.1"/>
<polyline points="730.0,580.0 745.0,590.0 755.0,600.0" fill="none" stroke="#cfe3e9" stroke-width="1.1"/>
<polyline points="855.0,470.0 854.0,480.0 852.0,490.0" fill="none" stroke="#cfe3e9" stroke-width="1.1"/>
</g>
<polygon points="249.5,392.0 248.5,386.0 254.0,373.9 259.7,368.1 267.8,369.3 274.8,367.0 286.3,369.3 295.6,367.0 297.9,358.9 307.1,361.2 318.7,356.6 333.7,357.7 341.8,365.8 345.3,375.1 349.9,380.8 343.0,385.5 345.3,399.3 353.4,404.0 367.3,406.3 374.2,409.8 376.5,419.0 377.1,430.4 382.3,436.3 385.2,440.7 400.0,442.2 413.4,442.9 431.1,437.8 435.6,443.7 437.0,456.0 435.7,474.0 420.0,473.0 409.0,471.0 405.0,462.0 394.3,453.3 388.8,450.5 374.9,447.7 361.0,444.9 363.8,439.4 363.8,428.3 359.6,420.0 355.5,414.4 344.4,410.2 333.3,411.6 327.7,410.2 301.3,404.7 298.6,397.8 293.0,390.8 290.2,381.1 283.3,381.1 277.8,386.7 263.9,393.6 251.4,393.6" fill="#d95353"/>
<polygon points="217.6,397.8 222.2,394.1 227.8,393.1 231.5,395.0 239.8,393.1 244.4,397.8 250.0,403.3 248.1,414.4 246.3,420.0 242.6,427.4 235.2,431.1 228.7,429.2 232.4,417.2 226.8,416.3 224.0,422.7 221.3,416.3 217.6,405.2" fill="#d95353"/>
<polygon points="447.3,458.0 486.0,462.0 491.8,473.3 501.4,471.8 499.2,477.7 502.9,485.1 496.3,494.0 490.3,497.0 498.5,501.4 496.3,504.4 490.3,507.3 488.9,514.7 496.3,523.6 491.8,535.5 490.3,541.4 469.6,541.4 462.2,548.8 451.8,553.2 441.0,565.0 431.1,573.9 425.2,579.9 411.0,582.9 399.2,587.4 387.4,588.8 378.5,597.7 369.6,599.2 360.7,605.9 362.2,617.0 369.6,628.8 377.0,640.7 387.4,633.3 406.6,634.7 408.1,637.7 402.2,643.6 402.2,649.5 388.9,650.3 382.9,646.6 375.5,649.5 369.6,658.4 354.8,661.4 343.0,670.3 331.1,673.2 323.7,667.3 328.2,656.9 326.7,646.6 314.8,642.1 307.4,637.7 300.0,636.2 304.5,631.8 316.3,622.9 331.1,615.5 332.2,616.8 320.1,610.3 313.7,613.1 300.7,610.3 287.8,603.0 281.0,599.0 277.0,598.0 273.9,591.8 297.0,595.0 290.5,589.0 284.5,582.1 295.2,578.9 298.9,573.3 308.1,570.5 313.7,572.4 319.2,577.0 326.6,579.8 332.2,575.2 338.6,563.1 343.3,555.7 352.5,553.9 363.2,556.6 376.6,553.3 383.2,555.0 396.5,560.0 409.8,565.0 426.5,566.6 431.5,555.0 435.7,547.5 431.8,541.0 433.1,533.3 440.9,525.5 444.8,520.3 455.1,517.7 453.8,512.5 456.4,504.8 452.5,499.6 449.9,495.7 442.2,487.9 446.0,476.3 447.3,465.3" fill="#d95353"/>
<polygon points="252.8,431.0 256.0,420.0 261.1,411.6 272.2,410.2 291.6,406.1 301.3,404.7 327.7,410.2 330.5,417.2 319.4,425.5 305.5,429.7 284.7,433.8 270.8,435.2 254.2,432.4" fill="url(#hat)"/>
<polygon points="338.8,442.2 349.9,435.2 361.0,439.4 361.0,444.9 349.9,447.7" fill="url(#hat)"/>
<polygon points="186.0,394.0 195.0,389.0 205.6,390.4 212.0,386.6 215.7,392.2 216.7,397.8 209.3,400.5 200.0,400.5 189.0,399.0" fill="url(#hat)"/>
<polygon points="216.7,397.8 221.3,416.3 224.0,422.7 221.0,423.0 214.0,404.0" fill="url(#hat)"/>
<polygon points="246.3,418.0 250.0,425.0 240.0,436.0 233.0,441.0 230.0,438.0 242.6,427.4" fill="url(#hat)"/>
<polygon points="409.8,471.0 435.7,471.0 435.7,476.0 428.0,484.0 424.0,490.0 432.0,499.0 429.0,500.0 419.0,490.0 409.8,482.0" fill="url(#hat)"/>
<polygon points="446.0,467.2 469.4,467.0 469.4,478.9 457.7,493.1 443.5,487.9 446.0,476.3" fill="url(#hat)"/>
<polygon points="380.0,556.0 383.0,549.0 392.0,546.0 400.7,547.5 398.1,559.2 412.4,560.5 422.7,561.7 426.6,566.9 422.7,572.1 405.9,577.3 395.5,573.4 380.0,569.5" fill="url(#hat)"/>
<polygon points="293.0,566.0 297.0,564.0 300.0,568.0 310.0,570.0 307.0,575.0 296.0,578.0 292.0,573.0" fill="url(#hat)"/>
<polygon points="407.0,532.0 412.0,533.0 418.0,545.0 424.0,556.0 425.0,563.0 421.0,563.0 415.0,550.0 409.0,540.0" fill="url(#hat)"/>
<polygon points="327.7,416.0 358.0,419.0 358.0,422.5 327.7,420.0" fill="url(#hat)"/>
<polygon points="262.0,395.0 280.0,395.0 290.0,400.0 285.0,403.0 270.0,400.0 262.0,399.0" fill="url(#hat)"/>
<path d="M316.5,552.0 330.0,552.5 339.6,555.0 340.0,563.0 334.0,574.0 328.0,580.0 324.0,579.0 319.0,563.0 322.0,557.0 317.0,555.0Z M324.0,557.5 334.5,558.0 336.5,562.0 330.5,572.5 326.5,575.5 322.5,563.0Z" fill="url(#hat)" fill-rule="evenodd"/>
<polygon points="261.1,414.4 272.2,410.2 270.8,420.0 276.4,428.3 266.7,431.0 258.3,425.5" fill="#f9f9f7"/>
<ellipse cx="434.5" cy="524.5" rx="6" ry="2.6" transform="rotate(45 434.5 524.5)" fill="#d95455"/>
<rect x="271.5" y="435.7" width="3.2" height="8.3" fill="#2aa3d9"/><rect x="238.5" y="434" width="2.6" height="4" fill="#2aa3d9"/>
<g transform="translate(-514,0)">
<rect x="743" y="445" width="59" height="21.6" fill="#333"/>
<text x="746.8" y="462.75" font-family="Liberation Sans" font-weight="700" font-size="20" fill="#fff" stroke="#fff" stroke-width="0.4" textLength="49.5" lengthAdjust="spacingAndGlyphs">KYIV</text>
<rect x="923.4" y="445.6" width="79.6" height="19.6" fill="#fff" stroke="#111" stroke-width="1.3"/>
<circle cx="916.6" cy="456.2" r="10.9" fill="#ff9104" stroke="#111" stroke-width="1.2"/>
<text x="930" y="460.9" font-family="Liberation Sans" font-weight="700" font-size="15.5" fill="#111" stroke="#111" stroke-width="0.45" textLength="67" lengthAdjust="spacingAndGlyphs">KHARKIV</text>
<rect x="960.4" y="553.6" width="90.8" height="19.6" fill="#fff" stroke="#111" stroke-width="1.3"/>
<circle cx="954.7" cy="564.1" r="11" fill="#ff9104" stroke="#111" stroke-width="1.2"/>
<text x="968" y="568.7" font-family="Liberation Sans" font-weight="700" font-size="16" fill="#111" stroke="#111" stroke-width="0.45" textLength="80" lengthAdjust="spacingAndGlyphs">MARIUPOL</text>
</g>
<g transform="translate(0,0)">
<use href="#ukr" fill="#f9f9f7" stroke="#9a9a96" stroke-width="0.7"/>
<g clip-path="url(#ukrclip)"><polygon points="541.0,512.0 547.0,498.0 554.0,476.0 566.0,478.0 580.0,486.0 596.0,497.0 610.0,510.0 622.0,524.0 633.0,542.0 617.0,550.0 600.0,542.0 580.0,540.0 560.0,540.0 542.0,524.0" fill="#e6e4df" opacity="0.3"/><use href="#carp"/></g>
<polygon points="760.5,402.0 764.0,404.0 763.5,412.0 762.0,420.0 763.0,428.0 765.0,437.0 762.5,438.0 759.5,428.0 758.0,420.0 759.5,410.0" fill="#d3e6eb"/>
<polygon points="786.0,464.0 797.0,469.5 806.0,473.0 814.0,474.0 820.0,472.5 823.0,476.0 829.0,483.0 834.0,489.0 836.0,494.0 830.0,496.0 821.0,491.0 811.0,485.0 801.0,479.0 791.0,471.0 785.0,467.0" fill="#d3e6eb"/>
<polygon points="849.0,556.0 858.0,551.0 868.0,553.0 878.0,551.0 886.0,547.0 889.0,551.0 883.0,558.0 872.0,557.0 860.0,556.0 852.0,559.0" fill="#d3e6eb"/>
<polyline points="784.4,393.0 778.0,405.0 773.0,415.0 769.6,422.6 765.2,432.9" fill="none" stroke="#cfe3e9" stroke-width="1.1"/>
<polyline points="764.0,438.0 770.0,452.0 780.0,462.0 788.0,466.0" fill="none" stroke="#cfe3e9" stroke-width="1.1"/>
<polyline points="835.0,494.0 843.6,498.0 858.4,505.5 870.3,515.8 882.1,517.3 883.6,530.6 882.1,543.9 886.5,551.0" fill="none" stroke="#cfe3e9" stroke-width="1.1"/>
<polyline points="849.5,558.0 849.0,570.0 840.0,580.0 825.0,586.0 805.0,592.0" fill="none" stroke="#cfe3e9" stroke-width="1.1"/>
<polyline points="636.0,510.0 650.0,513.0 662.0,515.0 676.0,513.0 684.0,512.0" fill="none" stroke="#cfe3e9" stroke-width="1.1"/>
<polyline points="600.0,505.0 610.0,512.0 620.0,520.0" fill="none" stroke="#cfe3e9" stroke-width="1.1"/>
<polyline points="700.0,520.0 710.0,527.0 720.0,533.0" fill="none" stroke="#cfe3e9" stroke-width="1.1"/>
<polyline points="760.0,548.0 770.0,560.0 776.0,575.0 780.0,590.0" fill="none" stroke="#cfe3e9" stroke-width="1.1"/>
<polyline points="730.0,580.0 745.0,590.0 755.0,600.0" fill="none" stroke="#cfe3e9" stroke-width="1.1"/>
<polyline points="855.0,470.0 854.0,480.0 852.0,490.0" fill="none" stroke="#cfe3e9" stroke-width="1.1"/>
</g>
<polyline points="889.5,555.5 905.8,553.3 920.6,545.9 928.0,543.0 940.0,544.4 946.6,536.9 951.0,526.6 958.4,517.7 959.9,508.8 965.1,507.3 965.8,499.9 958.4,497.0 958.4,482.2 956.2,465.9 955.0,456.0" fill="none" stroke="url(#hat)" stroke-width="3.5" stroke-linejoin="round"/>
<polygon points="955.0,456.0 1000.0,462.0 1005.8,473.3 1015.4,471.8 1013.2,477.7 1016.9,485.1 1010.3,494.0 1004.3,497.0 1012.5,501.4 1010.3,504.4 1004.3,507.3 1002.9,514.7 1010.3,523.6 1005.8,535.5 1004.3,541.4 983.6,541.4 976.2,548.8 965.8,553.2 955.0,565.0 945.1,573.9 939.2,579.9 925.0,582.9 913.2,587.4 901.4,588.8 892.5,597.7 883.6,599.2 874.7,605.9 876.2,617.0 883.6,628.8 891.0,640.7 901.4,633.3 920.6,634.7 922.1,637.7 916.2,643.6 916.2,649.5 902.9,650.3 896.9,646.6 889.5,649.5 883.6,658.4 868.8,661.4 857.0,670.3 845.1,673.2 837.7,667.3 842.2,656.9 840.7,646.6 828.8,642.1 821.4,637.7 814.0,636.2 818.5,631.8 830.3,622.9 845.1,615.5 843.6,611.0 839.2,611.0 831.8,608.1 817.0,609.6 806.6,608.1 793.3,602.2 797.8,599.2 788.9,599.2 787.4,592.5 802.2,590.3 820.0,585.9 836.2,582.2 843.6,578.5 849.6,568.1 854.0,557.8 868.8,554.1 877.7,558.5 889.5,555.5 905.8,553.3 920.6,545.9 928.0,543.0 940.0,544.4 946.6,536.9 951.0,526.6 958.4,517.7 959.9,508.8 965.1,507.3 965.8,499.9 958.4,497.0 958.4,482.2 956.2,465.9 955.0,456.0" fill="#d95353"/>
<polygon points="848.0,605.0 853.0,604.5 856.0,606.5 852.0,608.0" fill="#d6e8ec"/>
<polygon points="859.0,606.5 865.0,607.5 867.0,610.0 862.0,610.5" fill="#d6e8ec"/>
<polygon points="869.0,609.0 872.0,609.0 874.0,614.0 871.0,613.0" fill="#d6e8ec"/>
<polygon points="887.2,589.0 888.6,589.0 888.4,596.0 887.2,595.0" fill="#d6e8ec"/>
<g transform="translate(0,0)">
<rect x="743" y="445" width="59" height="21.6" fill="#333"/>
<text x="746.8" y="462.75" font-family="Liberation Sans" font-weight="700" font-size="20" fill="#fff" stroke="#fff" stroke-width="0.4" textLength="49.5" lengthAdjust="spacingAndGlyphs">KYIV</text>
<rect x="923.4" y="445.6" width="79.6" height="19.6" fill="#fff" stroke="#111" stroke-width="1.3"/>
<circle cx="916.6" cy="456.2" r="10.9" fill="#ff9104" stroke="#111" stroke-width="1.2"/>
<text x="930" y="460.9" font-family="Liberation Sans" font-weight="700" font-size="15.5" fill="#111" stroke="#111" stroke-width="0.45" textLength="67" lengthAdjust="spacingAndGlyphs">KHARKIV</text>
<rect x="960.4" y="553.6" width="90.8" height="19.6" fill="#fff" stroke="#111" stroke-width="1.3"/>
<circle cx="954.7" cy="564.1" r="11" fill="#ff9104" stroke="#111" stroke-width="1.2"/>
<text x="968" y="568.7" font-family="Liberation Sans" font-weight="700" font-size="16" fill="#111" stroke="#111" stroke-width="0.45" textLength="80" lengthAdjust="spacingAndGlyphs">MARIUPOL</text>
</g>
<g transform="translate(-514,449)">
<use href="#ukr" fill="#f9f9f7" stroke="#9a9a96" stroke-width="0.7"/>
<g clip-path="url(#ukrclip)"><polygon points="541.0,512.0 547.0,498.0 554.0,476.0 566.0,478.0 580.0,486.0 596.0,497.0 610.0,510.0 622.0,524.0 633.0,542.0 617.0,550.0 600.0,542.0 580.0,540.0 560.0,540.0 542.0,524.0" fill="#e6e4df" opacity="0.3"/><use href="#carp"/></g>
<polygon points="760.5,402.0 764.0,404.0 763.5,412.0 762.0,420.0 763.0,428.0 765.0,437.0 762.5,438.0 759.5,428.0 758.0,420.0 759.5,410.0" fill="#d3e6eb"/>
<polygon points="786.0,464.0 797.0,469.5 806.0,473.0 814.0,474.0 820.0,472.5 823.0,476.0 829.0,483.0 834.0,489.0 836.0,494.0 830.0,496.0 821.0,491.0 811.0,485.0 801.0,479.0 791.0,471.0 785.0,467.0" fill="#d3e6eb"/>
<polygon points="849.0,556.0 858.0,551.0 868.0,553.0 878.0,551.0 886.0,547.0 889.0,551.0 883.0,558.0 872.0,557.0 860.0,556.0 852.0,559.0" fill="#d3e6eb"/>
<polyline points="784.4,393.0 778.0,405.0 773.0,415.0 769.6,422.6 765.2,432.9" fill="none" stroke="#cfe3e9" stroke-width="1.1"/>
<polyline points="764.0,438.0 770.0,452.0 780.0,462.0 788.0,466.0" fill="none" stroke="#cfe3e9" stroke-width="1.1"/>
<polyline points="835.0,494.0 843.6,498.0 858.4,505.5 870.3,515.8 882.1,517.3 883.6,530.6 882.1,543.9 886.5,551.0" fill="none" stroke="#cfe3e9" stroke-width="1.1"/>
<polyline points="849.5,558.0 849.0,570.0 840.0,580.0 825.0,586.0 805.0,592.0" fill="none" stroke="#cfe3e9" stroke-width="1.1"/>
<polyline points="636.0,510.0 650.0,513.0 662.0,515.0 676.0,513.0 684.0,512.0" fill="none" stroke="#cfe3e9" stroke-width="1.1"/>
<polyline points="600.0,505.0 610.0,512.0 620.0,520.0" fill="none" stroke="#cfe3e9" stroke-width="1.1"/>
<polyline points="700.0,520.0 710.0,527.0 720.0,533.0" fill="none" stroke="#cfe3e9" stroke-width="1.1"/>
<polyline points="760.0,548.0 770.0,560.0 776.0,575.0 780.0,590.0" fill="none" stroke="#cfe3e9" stroke-width="1.1"/>
<polyline points="730.0,580.0 745.0,590.0 755.0,600.0" fill="none" stroke="#cfe3e9" stroke-width="1.1"/>
<polyline points="855.0,470.0 854.0,480.0 852.0,490.0" fill="none" stroke="#cfe3e9" stroke-width="1.1"/>
</g>
<polyline points="369.3,1000.6 381.9,1003.8 396.0,1002.2 408.6,997.5 421.2,995.9 430.6,994.4 433.8,988.1 430.6,984.9 424.4,978.6 427.5,973.9 440.1,969.2 441.7,962.9 443.2,956.6 451.1,951.9 449.5,947.2 443.2,939.3 440.1,931.5 438.5,922.0 442.4,914.9 441.0,905.0" fill="none" stroke="url(#hat)" stroke-width="3.5" stroke-linejoin="round"/>
<polygon points="441.0,905.0 486.0,911.0 491.8,922.3 501.4,920.8 499.2,926.7 502.9,934.1 496.3,943.0 490.3,946.0 498.5,950.4 496.3,953.4 490.3,956.3 488.9,963.7 496.3,972.6 491.8,984.5 490.3,990.4 469.6,990.4 462.2,997.8 451.8,1002.2 441.0,1014.0 431.1,1022.9 425.2,1028.9 411.0,1031.9 399.2,1036.4 387.4,1037.8 378.5,1046.7 369.6,1048.2 360.7,1054.9 362.2,1066.0 369.6,1077.8 377.0,1089.7 387.4,1082.3 406.6,1083.7 408.1,1086.7 402.2,1092.6 402.2,1098.5 388.9,1099.3 382.9,1095.6 375.5,1098.5 369.6,1107.4 354.8,1110.4 343.0,1119.3 331.1,1122.2 323.7,1116.3 328.2,1105.9 326.7,1095.6 314.8,1091.1 307.4,1086.7 300.0,1085.2 304.5,1080.8 316.3,1071.9 331.1,1064.5 329.6,1060.0 325.2,1060.0 317.8,1057.1 303.0,1058.6 292.6,1057.1 279.3,1051.2 283.8,1048.2 274.9,1048.2 273.4,1041.5 288.2,1039.3 306.0,1034.9 322.2,1031.2 329.6,1027.5 335.6,1017.1 340.0,1006.8 341.0,1008.5 353.6,1003.8 369.3,1000.6 381.9,1003.8 396.0,1002.2 408.6,997.5 421.2,995.9 430.6,994.4 433.8,988.1 430.6,984.9 424.4,978.6 427.5,973.9 440.1,969.2 441.7,962.9 443.2,956.6 451.1,951.9 449.5,947.2 443.2,939.3 440.1,931.5 438.5,922.0 442.4,914.9 441.0,905.0" fill="#db5451"/>
<polygon points="334.0,1054.0 339.0,1053.5 342.0,1055.5 338.0,1057.0" fill="#d6e8ec"/>
<polygon points="345.0,1055.5 351.0,1056.5 353.0,1059.0 348.0,1059.5" fill="#d6e8ec"/>
<polygon points="355.0,1058.0 358.0,1058.0 360.0,1063.0 357.0,1062.0" fill="#d6e8ec"/>
<polygon points="373.2,1038.0 374.6,1038.0 374.4,1045.0 373.2,1044.0" fill="#d6e8ec"/>
<polygon points="398.0,891.0 411.0,891.6 420.0,889.8 423.0,892.0 411.0,894.8 398.0,894.8" fill="#db5451"/>
<g transform="translate(-514,449)">
<rect x="743" y="445" width="59" height="21.6" fill="#333"/>
<text x="746.8" y="462.75" font-family="Liberation Sans" font-weight="700" font-size="20" fill="#fff" stroke="#fff" stroke-width="0.4" textLength="49.5" lengthAdjust="spacingAndGlyphs">KYIV</text>
<rect x="923.4" y="445.6" width="79.6" height="19.6" fill="#fff" stroke="#111" stroke-width="1.3"/>
<circle cx="916.6" cy="456.2" r="10.9" fill="#ff9104" stroke="#111" stroke-width="1.2"/>
<text x="930" y="460.9" font-family="Liberation Sans" font-weight="700" font-size="15.5" fill="#111" stroke="#111" stroke-width="0.45" textLength="67" lengthAdjust="spacingAndGlyphs">KHARKIV</text>
<rect x="960.4" y="553.6" width="90.8" height="19.6" fill="#fff" stroke="#111" stroke-width="1.3"/>
<circle cx="954.7" cy="564.1" r="11" fill="#ff9104" stroke="#111" stroke-width="1.2"/>
<text x="968" y="568.7" font-family="Liberation Sans" font-weight="700" font-size="16" fill="#111" stroke="#111" stroke-width="0.45" textLength="80" lengthAdjust="spacingAndGlyphs">MARIUPOL</text>
</g>
<g transform="translate(0,449)">
<use href="#ukr" fill="#f9f9f7" stroke="#9a9a96" stroke-width="0.7"/>
<g clip-path="url(#ukrclip)"><polygon points="541.0,512.0 547.0,498.0 554.0,476.0 566.0,478.0 580.0,486.0 596.0,497.0 610.0,510.0 622.0,524.0 633.0,542.0 617.0,550.0 600.0,542.0 580.0,540.0 560.0,540.0 542.0,524.0" fill="#e6e4df" opacity="0.3"/><use href="#carp"/></g>
<polygon points="760.5,402.0 764.0,404.0 763.5,412.0 762.0,420.0 763.0,428.0 765.0,437.0 762.5,438.0 759.5,428.0 758.0,420.0 759.5,410.0" fill="#d3e6eb"/>
<polygon points="786.0,464.0 797.0,469.5 806.0,473.0 814.0,474.0 820.0,472.5 823.0,476.0 829.0,483.0 834.0,489.0 836.0,494.0 830.0,496.0 821.0,491.0 811.0,485.0 801.0,479.0 791.0,471.0 785.0,467.0" fill="#d3e6eb"/>
<polygon points="849.0,556.0 858.0,551.0 868.0,553.0 878.0,551.0 886.0,547.0 889.0,551.0 883.0,558.0 872.0,557.0 860.0,556.0 852.0,559.0" fill="#d3e6eb"/>
<polyline points="784.4,393.0 778.0,405.0 773.0,415.0 769.6,422.6 765.2,432.9" fill="none" stroke="#cfe3e9" stroke-width="1.1"/>
<polyline points="764.0,438.0 770.0,452.0 780.0,462.0 788.0,466.0" fill="none" stroke="#cfe3e9" stroke-width="1.1"/>
<polyline points="835.0,494.0 843.6,498.0 858.4,505.5 870.3,515.8 882.1,517.3 883.6,530.6 882.1,543.9 886.5,551.0" fill="none" stroke="#cfe3e9" stroke-width="1.1"/>
<polyline points="849.5,558.0 849.0,570.0 840.0,580.0 825.0,586.0 805.0,592.0" fill="none" stroke="#cfe3e9" stroke-width="1.1"/>
<polyline points="636.0,510.0 650.0,513.0 662.0,515.0 676.0,513.0 684.0,512.0" fill="none" stroke="#cfe3e9" stroke-width="1.1"/>
<polyline points="600.0,505.0 610.0,512.0 620.0,520.0" fill="none" stroke="#cfe3e9" stroke-width="1.1"/>
<polyline points="700.0,520.0 710.0,527.0 720.0,533.0" fill="none" stroke="#cfe3e9" stroke-width="1.1"/>
<polyline points="760.0,548.0 770.0,560.0 776.0,575.0 780.0,590.0" fill="none" stroke="#cfe3e9" stroke-width="1.1"/>
<polyline points="730.0,580.0 745.0,590.0 755.0,600.0" fill="none" stroke="#cfe3e9" stroke-width="1.1"/>
<polyline points="855.0,470.0 854.0,480.0 852.0,490.0" fill="none" stroke="#cfe3e9" stroke-width="1.1"/>
</g>
<polyline points="887.2,1002.2 902.9,1003.8 915.5,999.1 928.1,994.4 934.4,988.1 935.9,981.8 940.6,973.9 946.9,967.6 956.4,967.6 959.5,959.8 965.8,950.3 959.5,945.6 953.2,937.7 956.4,931.5 952.4,923.6 950.1,914.9 950.0,905.0" fill="none" stroke="url(#hat)" stroke-width="3.5" stroke-linejoin="round"/>
<polygon points="955.0,905.0 1000.0,911.0 1005.8,922.3 1015.4,920.8 1013.2,926.7 1016.9,934.1 1010.3,943.0 1004.3,946.0 1012.5,950.4 1010.3,953.4 1004.3,956.3 1002.9,963.7 1010.3,972.6 1005.8,984.5 1004.3,990.4 983.6,990.4 976.2,997.8 965.8,1002.2 955.0,1014.0 945.1,1022.9 939.2,1028.9 925.0,1031.9 913.2,1036.4 901.4,1037.8 892.5,1046.7 883.6,1048.2 874.7,1054.9 876.2,1066.0 883.6,1077.8 891.0,1089.7 901.4,1082.3 920.6,1083.7 922.1,1086.7 916.2,1092.6 916.2,1098.5 902.9,1099.3 896.9,1095.6 889.5,1098.5 883.6,1107.4 868.8,1110.4 857.0,1119.3 845.1,1122.2 837.7,1116.3 842.2,1105.9 840.7,1095.6 828.8,1091.1 821.4,1086.7 814.0,1085.2 818.5,1080.8 830.3,1071.9 845.1,1064.5 843.6,1060.0 839.2,1060.0 831.8,1057.1 817.0,1058.6 806.6,1057.1 793.3,1051.2 797.8,1048.2 788.9,1048.2 787.4,1041.5 802.2,1039.3 820.0,1034.9 836.2,1031.2 843.6,1027.5 849.6,1017.1 854.0,1006.8 855.7,1006.9 871.5,1002.2 887.2,1002.2 902.9,1003.8 915.5,999.1 928.1,994.4 934.4,988.1 935.9,981.8 940.6,973.9 946.9,967.6 956.4,967.6 959.5,959.8 965.8,950.3 959.5,945.6 953.2,937.7 956.4,931.5 952.4,923.6 950.1,914.9 950.0,905.0" fill="#e45756"/>
<polygon points="848.0,1054.0 853.0,1053.5 856.0,1055.5 852.0,1057.0" fill="#d6e8ec"/>
<polygon points="859.0,1055.5 865.0,1056.5 867.0,1059.0 862.0,1059.5" fill="#d6e8ec"/>
<polygon points="869.0,1058.0 872.0,1058.0 874.0,1063.0 871.0,1062.0" fill="#d6e8ec"/>
<polygon points="887.2,1038.0 888.6,1038.0 888.4,1045.0 887.2,1044.0" fill="#d6e8ec"/>
<polygon points="872.0,853.2 881.0,854.8 885.0,857.5 882.0,860.8 876.0,858.5" fill="#e45756"/>
<polygon points="925.0,891.0 932.0,890.2 934.5,893.0 926.0,895.0" fill="#e45756"/>
<polygon points="959.5,890.5 963.5,889.5 964.0,895.0 960.0,895.0" fill="#e45756"/>
<g transform="translate(0,449)">
<rect x="743" y="445" width="59" height="21.6" fill="#333"/>
<text x="746.8" y="462.75" font-family="Liberation Sans" font-weight="700" font-size="20" fill="#fff" stroke="#fff" stroke-width="0.4" textLength="49.5" lengthAdjust="spacingAndGlyphs">KYIV</text>
<rect x="923.4" y="445.6" width="79.6" height="19.6" fill="#fff" stroke="#111" stroke-width="1.3"/>
<circle cx="916.6" cy="456.2" r="10.9" fill="#ff9104" stroke="#111" stroke-width="1.2"/>
<text x="930" y="460.9" font-family="Liberation Sans" font-weight="700" font-size="15.5" fill="#111" stroke="#111" stroke-width="0.45" textLength="67" lengthAdjust="spacingAndGlyphs">KHARKIV</text>
<rect x="960.4" y="553.6" width="90.8" height="19.6" fill="#fff" stroke="#111" stroke-width="1.3"/>
<circle cx="954.7" cy="564.1" r="11" fill="#ff9104" stroke="#111" stroke-width="1.2"/>
<text x="968" y="568.7" font-family="Liberation Sans" font-weight="700" font-size="16" fill="#111" stroke="#111" stroke-width="0.45" textLength="80" lengthAdjust="spacingAndGlyphs">MARIUPOL</text>
</g>
</svg>

<div class="t" id="kicker" style="transform:scaleX(0.938);left:27.8px;top:20.8px;font-size:25.9px;line-height:25.9px;font-weight:700;color:#232a36;-webkit-text-stroke:0.35px #232a36;">RUSSIA-UKRAINE WAR</div>
<div class="t" id="title" style="transform:scaleX(0.962);left:25px;top:54.9px;font-size:55.2px;line-height:55.2px;color:#ff4100;">Russia’s war on Ukraine</div>
<div class="t" id="p1" style="-webkit-text-stroke:0.2px #1f2733;transform:scaleX(1.135);left:28.3px;top:124.2px;font-size:24px;line-height:24px;color:#1f2733;">After capturing 27 percent of Ukraine in early 2022, Russia lost about a third of that</div>
<div class="t" id="p2" style="-webkit-text-stroke:0.2px #1f2733;transform:scaleX(1.1348);left:28.3px;top:160.3px;font-size:24px;line-height:24px;color:#1f2733;">territory to Ukrainian counteroffensives and has since regained less than 1 percent,</div>
<div class="t" id="p3" style="-webkit-text-stroke:0.2px #1f2733;transform:scaleX(1.1365);left:28px;top:196.2px;font-size:24px;line-height:24px;color:#1f2733;">despite heavy losses and continued missile and drone strikes.</div>


<div class="t" id="mt1" style="transform:scaleX(0.962);left:181.5px;top:307.4px;font-family:'Liberation Serif',serif;font-weight:700;font-size:31.5px;line-height:31.5px;color:#333;">March <span class="od">2022</span></div>
<div class="t" id="mt2" style="transform:scaleX(0.947);left:678px;top:307.4px;font-family:'Liberation Serif',serif;font-weight:700;font-size:31.5px;line-height:31.5px;color:#333;">February <span class="od">2023</span></div>
<div class="t" id="mt3" style="transform:scaleX(0.983);left:157px;top:756.4px;font-family:'Liberation Serif',serif;font-weight:700;font-size:31.5px;line-height:31.5px;color:#333;">December <span class="od">2024</span></div>
<div class="t" id="mt4" style="transform:scaleX(0.958);left:692px;top:756.4px;font-family:'Liberation Serif',serif;font-weight:700;font-size:31.5px;line-height:31.5px;color:#333;">August <span class="od">2025</span></div>

<div id="lg1" style="position:absolute;left:31.3px;top:1208px;width:55.8px;height:36.1px;background:#e8585a;"></div>
<div class="t" id="lt1" style="transform:scaleX(0.985);left:95px;top:1217.7px;font-size:20.1px;line-height:20.1px;color:#333;">Under Russian control</div>
<svg id="lg2" style="position:absolute;left:350px;top:1211px;" width="56" height="37" viewBox="0 0 56 37">
<defs><clipPath id="lgc"><rect x="0" y="0" width="55.4" height="36"/></clipPath></defs>
<rect x="0" y="0" width="55.4" height="36" fill="#f99c9e"/>
<g clip-path="url(#lgc)" stroke="#f00" stroke-width="1.15" transform="translate(-1.2,0)">
<line x1="-40" y1="40" x2="12" y2="-12"/><line x1="-28" y1="40" x2="24" y2="-12"/><line x1="-16" y1="40" x2="36" y2="-12"/><line x1="-4" y1="40" x2="48" y2="-12"/><line x1="8" y1="40" x2="60" y2="-12"/><line x1="20" y1="40" x2="72" y2="-12"/><line x1="32" y1="40" x2="84" y2="-12"/><line x1="44" y1="40" x2="96" y2="-12"/>
</g></svg>
<div class="t" id="lt2" style="transform:scaleX(0.99);left:413px;top:1209.9px;font-size:19.7px;line-height:19.7px;color:#333;">Russian forces have operated in or</div>
<div class="t" id="lt3" style="transform:scaleX(1.027);left:414px;top:1232px;font-size:19.7px;line-height:19.7px;color:#333;">launched attacks against but do not control</div>


<svg id="cc" style="position:absolute;left:24px;top:1286px;" width="102" height="42" viewBox="0 0 1081 445">
<rect x="38" y="53" width="994" height="344" rx="14" fill="#9c9c9c" stroke="#000" stroke-width="8"/>
<rect x="38" y="298" width="994" height="99" fill="#000"/>
<circle cx="205" cy="215" r="140" fill="#9c9c9c"/>
<circle cx="205" cy="215" r="125" fill="#000"/>
<circle cx="205" cy="215" r="100" fill="#fff"/>
<text x="205" y="255" text-anchor="middle" font-family="Liberation Sans" font-weight="700" font-size="140" fill="#000" textLength="155" lengthAdjust="spacingAndGlyphs">cc</text>
<g>
<circle cx="465" cy="175" r="90" fill="#000"/><circle cx="465" cy="175" r="73" fill="#fff"/>
<circle cx="465" cy="120" r="14" fill="#000"/><rect x="440" y="140" width="50" height="60" rx="6" fill="#000"/><rect x="452" y="195" width="26" height="45" fill="#000"/>
<circle cx="685" cy="175" r="90" fill="#000"/><circle cx="685" cy="175" r="73" fill="#fff"/>
<text x="685" y="218" text-anchor="middle" font-family="Liberation Sans" font-weight="700" font-size="120" fill="#000">$</text>
<line x1="615" y1="130" x2="760" y2="215" stroke="#000" stroke-width="16"/>
<circle cx="905" cy="175" r="90" fill="#000"/><circle cx="905" cy="175" r="73" fill="#fff"/>
<path d="M865,175 A42,42 0 1,1 905,217" fill="none" stroke="#000" stroke-width="22"/>
<polygon points="845,160 885,160 865,195" fill="#000"/>
</g>
<text x="460" y="378" text-anchor="middle" font-family="Liberation Sans" font-weight="700" font-size="66" fill="#fff" textLength="100" lengthAdjust="spacingAndGlyphs">BY</text>
<text x="680" y="378" text-anchor="middle" font-family="Liberation Sans" font-weight="700" font-size="66" fill="#fff" textLength="110" lengthAdjust="spacingAndGlyphs">NC</text>
<text x="892" y="378" text-anchor="middle" font-family="Liberation Sans" font-weight="700" font-size="66" fill="#fff" textLength="95" lengthAdjust="spacingAndGlyphs">SA</text>
</svg>
<svg id="ajlogo" style="position:absolute;left:980px;top:1235px;" width="60" height="70" viewBox="0 0 1081 1261">
<g fill="none" stroke="#000" stroke-linecap="round">
<path d="M565,95 C520,120 510,200 545,260 C640,380 780,560 830,700 C870,820 820,950 720,980 C680,990 650,985 630,975" stroke-width="61"/>
<path d="M545,290 C520,330 530,380 580,430 C650,500 700,560 690,620" stroke-width="45"/>
<path d="M490,400 C420,470 300,520 250,620 C210,720 240,880 300,980 C340,1040 400,1050 430,1020 C470,960 460,850 480,760" stroke-width="45"/>
<path d="M540,400 C540,520 500,600 470,700 C440,800 400,880 390,1000" stroke-width="35"/>
<path d="M420,1050 C450,1130 520,1170 570,1150 C610,1120 600,1000 610,920 C640,850 720,780 760,700 C770,650 750,610 740,600" stroke-width="48"/>
<path d="M480,770 C520,850 560,900 580,930" stroke-width="35"/>
<path d="M560,650 L620,580" stroke-width="29"/>
<path d="M340,690 C340,650 360,620 370,600" stroke-width="26"/>
<ellipse cx="310" cy="830" rx="45" ry="70" stroke-width="45"/>
</g>
<g fill="#000">
<circle cx="470" cy="360" r="40"/><circle cx="425" cy="420" r="40"/>
<rect x="575" y="765" width="62" height="62" transform="rotate(30 600 790)"/>
<rect x="705" y="845" width="62" height="62" transform="rotate(30 730 870)"/>
<rect x="485" y="960" width="56" height="56" transform="rotate(30 507 982)"/>
<rect x="475" y="1040" width="62" height="56" transform="rotate(30 500 1062)"/>
<circle cx="665" cy="1075" r="20"/>
</g>
</svg>
<div class="t" id="f1" style="transform:scaleX(1.073);left:131px;top:1292.1px;font-size:13.9px;line-height:13.9px;color:#444;-webkit-text-stroke:0.2px #444;">Source: ©Mapbox, ©OpenStreetMap</div>
<div class="t" id="f2" style="transform:scaleX(1.145);left:129.6px;top:1310.5px;font-size:16px;line-height:16px;color:#111;-webkit-text-stroke:0.5px #111;">Source:&nbsp; Institute for the Study of War</div>
<div class="t" id="f3" style="left:462px;top:1310.5px;font-size:16px;line-height:16px;color:#111;-webkit-text-stroke:0.5px #111;">|</div>
<div class="t" id="f4" style="transform:scaleX(1.086);left:497px;top:1310.5px;font-size:16px;line-height:16px;color:#111;-webkit-text-stroke:0.5px #111;">August 12, 2025</div>
<div class="t" id="f5" style="transform:scaleX(1.097);left:877.5px;top:1310px;font-size:15.4px;line-height:15.4px;font-weight:700;color:#111;-webkit-text-stroke:0.3px #111;">@AJLabs</div>
<div id="ajbox" style="position:absolute;left:964.3px;top:1305.8px;width:87.4px;height:20.4px;border:2.2px solid #111;background:#fff;"></div>
<div class="t" id="f6" style="transform:scaleX(0.948);left:969px;top:1310.2px;-webkit-text-stroke:0.55px #111;font-size:14.2px;line-height:14.2px;font-weight:700;color:#111;">ALJAZEERA</div>

</body></html>
